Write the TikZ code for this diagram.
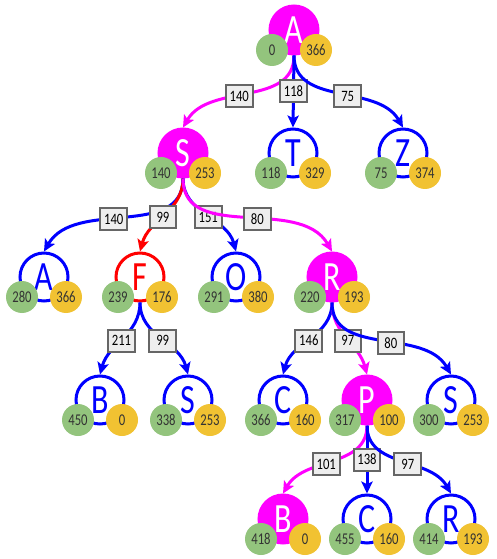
\documentclass[tikz,border=0pt]{standalone}
\usepackage{fontspec}
\usepackage{graphicx}
\usepackage{xcolor}
\usetikzlibrary{calc,arrows.meta}
\setmainfont{Carlito}

\definecolor{pathc}{HTML}{FF00FF}
\definecolor{openc}{HTML}{0000FF}
\definecolor{failc}{HTML}{FF0000}
\definecolor{gcol}{HTML}{93C47D}
\definecolor{hcol}{HTML}{F1C232}
\definecolor{numc}{HTML}{333333}
\definecolor{labfill}{HTML}{EEEEEE}
\definecolor{labdraw}{HTML}{666666}

\newcommand{\bigletter}[1]{\fontsize{24}{24}\selectfont\scalebox{1}[1.3]{#1}}
\newcommand{\smallnum}[1]{\fontsize{9.5}{9.5}\selectfont\scalebox{1}[1.3]{#1}}
\newcommand{\costnum}[1]{\fontsize{9.5}{9.5}\selectfont\scalebox{1}[1.25]{#1}}
\newcommand{\statenode}[7]{%
  \node[#7] (#1) at (#2,#3) {\bigletter{#4}};
  \node[gval] (#1g) at ($(#1)+(-22,20)$) {\smallnum{#5}};
  \node[hval] (#1h) at ($(#1)+(22,20)$) {\smallnum{#6}};
}

\tikzset{
  state/.style={circle, minimum size=36pt, inner sep=0pt, line width=2.25pt},
  fillstate/.style={state, draw=pathc, fill=pathc, text=white},
  openstate/.style={state, draw=openc, fill=white, text=openc},
  failstate/.style={state, draw=failc, fill=white, text=failc},
  gval/.style={circle, fill=gcol, minimum size=24pt, inner sep=0pt, text=numc},
  hval/.style={circle, fill=hcol, minimum size=24pt, inner sep=0pt, text=numc},
  treelink/.style={line width=2.25pt, draw=#1, -{Stealth[length=9pt,width=8.5pt,inset=2pt]}},
  cost/.style={draw=labdraw, fill=labfill, line width=1.5pt, minimum width=20pt,
    minimum height=16.5pt, inner sep=1pt, text=black},
  tol/.style={out=-90, in=60},
  tor/.style={out=-90, in=120},
  toln/.style={out=-90, in=75},
  torn/.style={out=-90, in=105},
}

\begin{document}
\begin{tikzpicture}[x=0.75pt, y=-0.75pt]
  \useasboundingbox (0,0) rectangle (496,559);

  % states
  \statenode{A}{294}{30}{A}{0}{366}{fillstate}
  \statenode{S}{183}{153}{S}{140}{253}{fillstate}
  \statenode{T}{293}{153}{T}{118}{329}{openstate}
  \statenode{Z}{403}{153}{Z}{75}{374}{openstate}
  \statenode{SA}{44}{277}{A}{280}{366}{openstate}
  \statenode{SF}{140}{277}{F}{239}{176}{failstate}
  \statenode{SO}{236}{277}{O}{291}{380}{openstate}
  \statenode{SR}{332}{277}{R}{220}{193}{fillstate}
  \statenode{FB}{100}{400}{B}{450}{0}{openstate}
  \statenode{FS}{188}{400}{S}{338}{253}{openstate}
  \statenode{RC}{283}{400}{C}{366}{160}{openstate}
  \statenode{RP}{367}{400}{P}{317}{100}{fillstate}
  \statenode{RS}{451}{400}{S}{300}{253}{openstate}
  \statenode{PB}{283}{519}{B}{418}{0}{fillstate}
  \statenode{PC}{367}{519}{C}{455}{160}{openstate}
  \statenode{PR}{451}{519}{R}{414}{193}{openstate}

  % links
  \draw[treelink=pathc] (A.south) to[tol] node[cost, pos=0.56] {\costnum{140}} (S.north);
  \draw[treelink=openc] (A.south) -- node[cost] {\costnum{118}} (T.north);
  \draw[treelink=openc] (A.south) to[tor] node[cost, pos=0.56] {\costnum{75}} (Z.north);
  \draw[treelink=openc] (S.south) to[tol] node[cost, pos=0.56] {\costnum{140}} (SA.north);
  \draw[treelink=failc] (S.south) to[toln] node[cost, pos=0.53] {\costnum{99}} (SF.north);
  \draw[treelink=openc] (S.south) to[torn] node[cost, pos=0.53] {\costnum{151}} (SO.north);
  \draw[treelink=pathc] (S.south) to[tor] node[cost, pos=0.56] {\costnum{80}} (SR.north);
  \draw[treelink=openc] (SF.south) to[toln] node[cost, pos=0.53] {\costnum{211}} (FB.north);
  \draw[treelink=openc] (SF.south) to[torn] node[cost, pos=0.53] {\costnum{99}} (FS.north);
  \draw[treelink=openc] (SR.south) to[toln] node[cost, pos=0.53] {\costnum{146}} (RC.north);
  \draw[treelink=pathc] (SR.south) to[torn] node[cost, pos=0.53] {\costnum{97}} (RP.north);
  \draw[treelink=openc] (SR.south) to[tor] node[cost, pos=0.56] {\costnum{80}} (RS.north);
  \draw[treelink=pathc] (RP.south) to[tol] node[cost, pos=0.56] {\costnum{101}} (PB.north);
  \draw[treelink=openc] (RP.south) -- node[cost] {\costnum{138}} (PC.north);
  \draw[treelink=openc] (RP.south) to[tor] node[cost, pos=0.56] {\costnum{97}} (PR.north);
\end{tikzpicture}
\end{document}
